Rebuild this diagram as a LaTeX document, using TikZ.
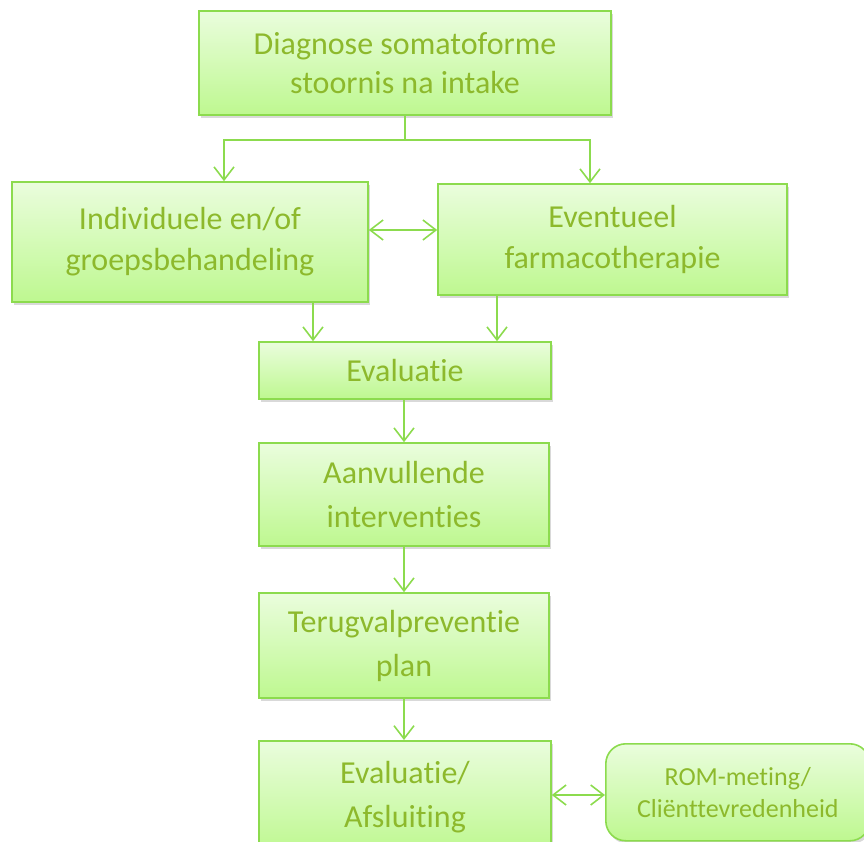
\documentclass[tikz,border=0pt]{standalone}
\usepackage{fontspec}
\setmainfont{Carlito}[Ligatures=NoCommon]
\usetikzlibrary{arrows.meta,shadows}
\definecolor{boxline}{HTML}{8CDB4E}
\definecolor{boxtext}{HTML}{8DB92C}
\definecolor{filltop}{HTML}{EAFDDD}
\definecolor{fillbot}{HTML}{BEF890}
\tikzset{
  stepbox/.style={draw=boxline, line width=1.6pt, top color=filltop, bottom color=fillbot,
    text=boxtext, align=center, inner sep=0pt,
    font=\fontsize{32}{39}\selectfont,
    drop shadow={shadow xshift=2pt, shadow yshift=-3pt, opacity=0.25, fill=black!60}},
  widebox/.style={stepbox, font=\fontsize{32}{41}\selectfont},
  tallbox/.style={stepbox, font=\fontsize{32}{44}\selectfont},
  conn/.style={draw=boxline, line width=1.6pt, -{Straight Barb[length=13pt,width=20pt,line width=1.6pt]}},
  dconn/.style={draw=boxline, line width=1.6pt, {Straight Barb[length=13pt,width=20pt,line width=1.6pt]}-{Straight Barb[length=13pt,width=20pt,line width=1.6pt]}}
}
\begin{document}
\begin{tikzpicture}[x=1pt,y=-1pt]
\useasboundingbox (0,0) rectangle (864,842);
\node[stepbox, minimum width=412pt, minimum height=104pt] (diag) at (405,63) {Diagnose somatoforme\\stoornis na intake};
\node[widebox, minimum width=356pt, minimum height=120pt] (indiv) at (190,242) {Individuele en/of\\groepsbehandeling};
\node[widebox, minimum width=349pt, minimum height=111pt] (farma) at (612.5,239.5) {Eventueel\\farmacotherapie};
\node[stepbox, minimum width=292pt, minimum height=57pt] (eval) at (405,370.5) {Evaluatie};
\node[tallbox, minimum width=290pt, minimum height=103pt] (aanv) at (404,494.5) {Aanvullende\\interventies};
\node[tallbox, minimum width=290pt, minimum height=105pt] (terug) at (404,645.5) {Terugvalpreventie\\plan};
\node[tallbox, minimum width=292pt, minimum height=112pt, anchor=north] (afsl) at (405,740) {Evaluatie/\\Afsluiting};
\node[stepbox, rounded corners=20pt, minimum width=264pt, minimum height=97pt, anchor=north west,
  font=\fontsize{26}{32}\selectfont] (rom) at (605,743) {ROM-meting/\\Cliënttevredenheid};
\coordinate (split) at (405,140);
\draw[conn] (diag.south) -- (split) -| (indiv.north -| 224,0);
\draw[conn] (split) -| (farma.north -| 590,0);
\draw[dconn] (indiv.east |- 0,230) -- (farma.west |- 0,230);
\draw[conn] (indiv.south -| 313,0) -- (eval.north -| 313,0);
\draw[conn] (farma.south -| 497,0) -- (eval.north -| 497,0);
\draw[conn] (eval.south -| 404,0) -- (aanv.north -| 404,0);
\draw[conn] (aanv.south) -- (terug.north);
\draw[conn] (terug.south) -- (afsl.north -| 404,0);
\draw[dconn] (afsl.east |- 0,795) -- (rom.west |- 0,795);
\end{tikzpicture}
\end{document}
